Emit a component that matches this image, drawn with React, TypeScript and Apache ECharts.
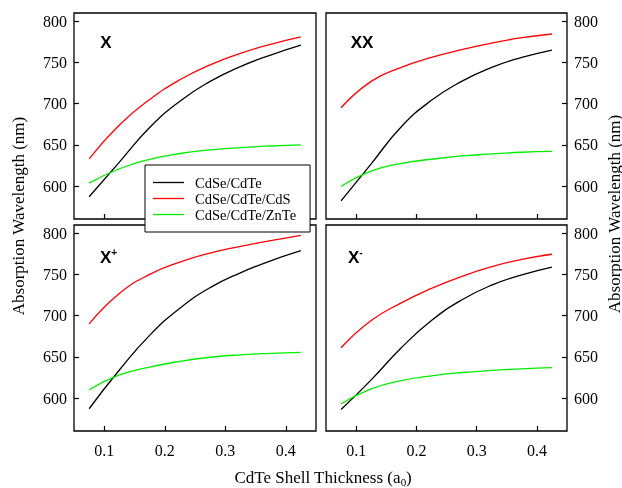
import React, { useEffect, useRef } from "react";
import * as echarts from "echarts";

const thickness = [0.075, 0.125, 0.175, 0.225, 0.275, 0.325, 0.375, 0.425];
const seriesNames = ["CdSe/CdTe", "CdSe/CdTe/CdS", "CdSe/CdTe/ZnTe"];
const colors = ["#000000", "#ff0000", "#00ee00"];

// X exciton
const xBlack = [587, 629, 671, 703, 727, 745, 759, 771];
const xRed = [633, 674, 705, 729, 747, 761, 772, 781];
const xGreen = [603.5, 621, 632.5, 639.5, 643.8, 646.6, 648.6, 650];
// XX biexciton
const xxBlack = [582, 627, 672, 704, 727, 744, 756, 765];
const xxRed = [695, 727, 744, 756, 765.5, 773.5, 780, 784.5];
const xxGreen = [599.5, 618, 627.5, 632.5, 636.5, 639, 641, 642];
// X+ trion
const xpBlack = [587, 634, 676, 709, 734, 752, 766.5, 779];
const xpRed = [690, 727, 750, 765, 776, 784, 791, 797.5];
const xpGreen = [610, 628, 637.5, 644.5, 649.5, 652.5, 654.3, 655.5];
// X- trion
const xmBlack = [586, 622, 661, 694, 719, 737, 749.5, 759];
const xmRed = [661, 694, 715.5, 733, 747.5, 759.4, 768.4, 774.5];
const xmGreen = [593, 611, 621, 627, 631, 633.5, 635.5, 637];

const xTicks = [0.1, 0.2, 0.3, 0.4];
const yTicks = [600, 650, 700, 750, 800];

const SERIF = "'Liberation Serif', 'Times New Roman', serif";
const SANS = "'Liberation Sans', Arial, sans-serif";

const panels = [
  { data: [xBlack, xRed, xGreen], grid: { left: 74, top: 13, width: 242, height: 206 }, yPos: "left", showX: false },
  { data: [xxBlack, xxRed, xxGreen], grid: { left: 326, top: 13, width: 241, height: 206 }, yPos: "right", showX: false },
  { data: [xpBlack, xpRed, xpGreen], grid: { left: 74, top: 225, width: 242, height: 206 }, yPos: "left", showX: true },
  { data: [xmBlack, xmRed, xmGreen], grid: { left: 326, top: 225, width: 241, height: 206 }, yPos: "right", showX: true },
];

export default function App() {
  const ref = useRef<HTMLDivElement>(null);
  useEffect(() => {
    if (!ref.current) return;
    const chart = echarts.init(ref.current, undefined, { renderer: "svg" });
    const grids = panels.map((p) => ({
      ...p.grid,
      show: true,
      borderColor: "#000",
      borderWidth: 1.3,
      backgroundColor: "transparent",
    }));
    const xAxes = panels.map((p, i) => ({
      type: "value",
      gridIndex: i,
      min: 0.05,
      max: 0.45,
      splitLine: { show: false },
      axisLine: { show: false },
      axisTick: { show: true, inside: true, length: 5, customValues: xTicks, lineStyle: { color: "#000", width: 1.2 } },
      axisLabel: {
        show: p.showX,
        customValues: xTicks,
        margin: 11,
        color: "#000",
        fontFamily: SERIF,
        fontSize: 16,
        formatter: (v: number) => v.toFixed(1),
      },
    }));
    const yAxes = panels.map((p, i) => ({
      type: "value",
      gridIndex: i,
      position: p.yPos,
      min: 560,
      max: 810,
      splitLine: { show: false },
      axisLine: { show: false },
      axisTick: { show: true, inside: true, length: 5, customValues: yTicks, lineStyle: { color: "#000", width: 1.2 } },
      axisLabel: {
        show: true,
        customValues: yTicks,
        margin: 7,
        color: "#000",
        fontFamily: SERIF,
        fontSize: 16,
      },
    }));
    const series: any[] = [];
    panels.forEach((p, i) => {
      p.data.forEach((vals, k) => {
        series.push({
          type: "line",
          name: seriesNames[k],
          xAxisIndex: i,
          yAxisIndex: i,
          data: thickness.map((t, j) => [t, vals[j]]),
          smooth: 0.5,
          symbol: "none",
          lineStyle: { color: colors[k], width: 1.3 },
          itemStyle: { color: colors[k] },
        });
      });
    });
    const labelRich = {
      a: { fontFamily: SANS, fontWeight: "bold", fontSize: 17, lineHeight: 20, fill: "#000" },
      b: { fontFamily: SANS, fontWeight: "bold", fontSize: 10, lineHeight: 20, verticalAlign: "top", fill: "#000" },
    };
    chart.setOption({
      animation: false,
      grid: grids,
      xAxis: xAxes,
      yAxis: yAxes,
      series,
      legend: {
        orient: "vertical",
        left: 145,
        top: 165,
        padding: [10, 14, 10, 8],
        itemWidth: 31,
        itemHeight: 14,
        itemGap: 1,
        icon: "path://M0,0 L31,0 L31,1.3 L0,1.3 Z",
        backgroundColor: "#fff",
        borderColor: "#000",
        borderWidth: 1,
        z: 10,
        data: seriesNames,
        textStyle: { fontFamily: SERIF, fontSize: 14.5, color: "#000", padding: [0, 0, 0, 6] },
      },
      graphic: [
        { type: "text", x: 106, y: 42, z: 5, style: { text: "X", font: `bold 17px ${SANS}`, fill: "#000", align: "center", verticalAlign: "middle" } },
        { type: "text", x: 362, y: 42, z: 5, style: { text: "XX", font: `bold 17px ${SANS}`, fill: "#000", align: "center", verticalAlign: "middle" } },
        { type: "text", x: 100, y: 257, z: 5, style: { text: "{a|X}{b|+}", rich: labelRich, align: "left", verticalAlign: "middle" } },
        { type: "text", x: 348, y: 257, z: 5, style: { text: "{a|X}{b|-}", rich: labelRich, align: "left", verticalAlign: "middle" } },
        {
          type: "text", x: 18, y: 216, rotation: Math.PI / 2,
          style: { text: "Absorption Wavelength (nm)", font: `17px ${SERIF}`, fill: "#000", align: "center", verticalAlign: "middle" },
        },
        {
          type: "text", x: 614, y: 214, rotation: Math.PI / 2,
          style: { text: "Absorption Wavelength (nm)", font: `17px ${SERIF}`, fill: "#000", align: "center", verticalAlign: "middle" },
        },
        {
          type: "text", x: 323, y: 477,
          style: {
            text: "{a|CdTe Shell Thickness (a}{s|0}{a|)}",
            align: "center",
            verticalAlign: "middle",
            rich: {
              a: { fontFamily: SERIF, fontSize: 17, lineHeight: 20, fill: "#000" },
              s: { fontFamily: SERIF, fontSize: 11, lineHeight: 20, verticalAlign: "bottom", padding: [4, 0, 0, 0], fill: "#000" },
            },
          },
        },
      ],
    });
    return () => chart.dispose();
  }, []);
  return <div ref={ref} style={{ position: "fixed", left: 0, top: 0, width: 622, height: 488 }} />;
}
